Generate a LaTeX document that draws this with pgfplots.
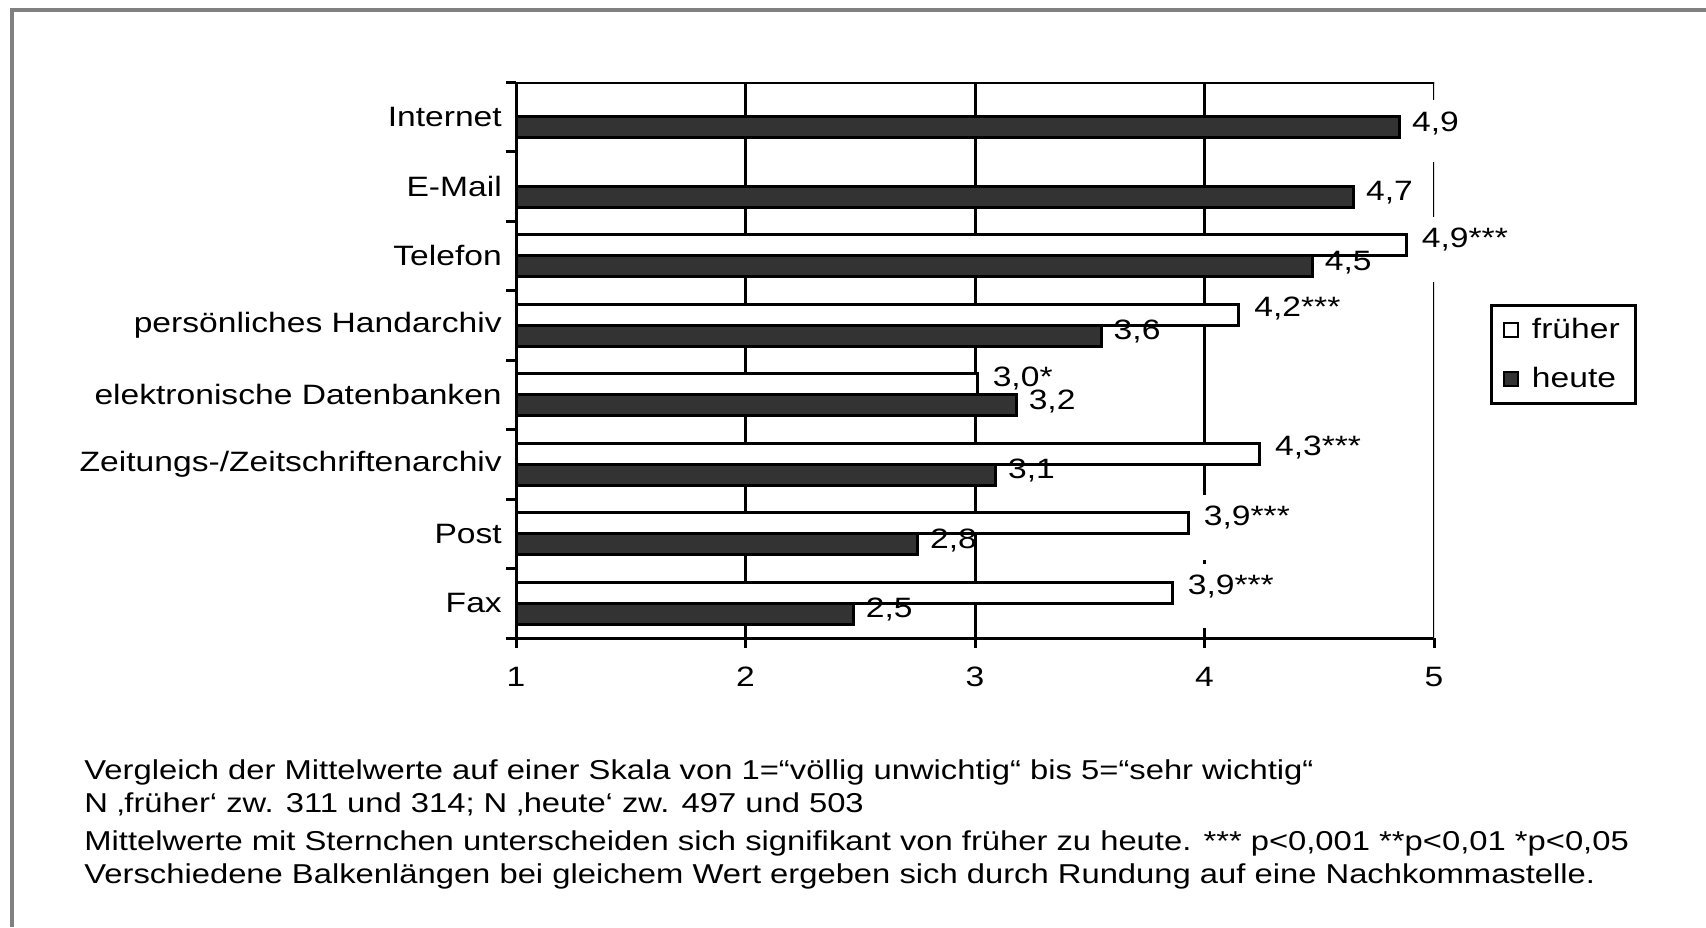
\documentclass[border=0pt]{standalone}
\usepackage{fontspec}
\setmainfont{Liberation Sans}[FakeStretch=1.2]
\usepackage{pgfplots}
\pgfplotsset{compat=1.18}
\usepackage{pgfplotstable}
\definecolor{barDark}{HTML}{333333}
\definecolor{frameGray}{HTML}{808080}
\newcommand\lbl{\fontsize{14pt}{16pt}\selectfont}
\newcommand\notefont{\fontsize{13.65pt}{15pt}\selectfont}

\pgfplotstableread{
y val lab
5 4.88 4,9***
4 4.15 4,2***
3 3.01 3,0*
2 4.24 4,3***
1 3.93 3,9***
0 3.86 3,9***
}\frueher

\pgfplotstableread{
y val lab
7 4.85 4,9
6 4.65 4,7
5 4.47 4,5
4 3.55 3,6
3 3.18 3,2
2 3.09 3,1
1 2.75 2,8
0 2.47 2,5
}\heute

\begin{document}
\begin{tikzpicture}
\path[use as bounding box] (0,0) rectangle (853pt,463.5pt);
\fill[white] (0,0) rectangle (853pt,463.5pt);
\draw[frameGray, line width=2pt] (6pt,0) -- (6pt,458.25pt) -- (853pt,458.25pt);

\begin{axis}[
  at={(258pt,144.5pt)}, anchor=south west,
  scale only axis, width=459pt, height=278pt,
  xmin=1, xmax=5, ymin=-0.5, ymax=7.5,
  xbar, bar width=10.5pt,
  axis x line*=bottom, axis y line*=left,
  axis line style={line width=1.5pt, black, -},
  xtick={1,2,3,4,5},
  ytick={-0.5,0.5,1.5,2.5,3.5,4.5,5.5,6.5,7.5},
  yticklabels={Fax,Post,Zeitungs-/Zeitschriftenarchiv,elektronische Datenbanken,persönliches Handarchiv,Telefon,E-Mail,Internet,{}},
  yticklabel style={yshift=17.375pt, xshift=1.4pt},
  xticklabel style={yshift=-6pt},
  tick align=outside,
  major tick length=5pt,
  tick style={line width=1.5pt, black},
  ticklabel style={font=\lbl},
  /pgf/number format/assume math mode=true,
  point meta=explicit symbolic,
  nodes near coords,
  every node near coord/.append style={anchor=west, inner sep=0pt, font=\lbl, text=black, fill=none, draw=none},
  legend style={at={(1.061,0.6007)}, anchor=north west, draw=black, line width=1.25pt,
    font=\lbl, inner xsep=6pt, inner ysep=4.4pt, row sep=9pt,
    /tikz/every odd column/.append style={column sep=4.35pt}},
  legend cell align=left,
]
\draw[line width=1.5pt] (axis cs:2,-0.5) -- (axis cs:2,7.5);
\draw[line width=1.5pt] (axis cs:3,-0.5) -- (axis cs:3,7.5);
\draw[line width=1.5pt] (axis cs:4,7.5) -- (axis cs:4,1.56);
\draw[line width=1.5pt] (axis cs:4,0.62) -- (axis cs:4,0.56);
\draw[line width=1.5pt] (axis cs:4,-0.36) -- (axis cs:4,-0.5);
\draw[line width=1.5pt] (axis cs:5,7.5) -- (axis cs:5,7.24);
\draw[line width=1.5pt] (axis cs:5,6.35) -- (axis cs:5,5.56);
\draw[line width=1.5pt] (axis cs:5,4.62) -- (axis cs:5,-0.5);
\draw[line width=1.5pt, line cap=rect] (axis cs:1,7.5) -- (axis cs:5,7.5);

\addplot[fill=white, draw=black, line width=1.5pt, bar shift=5.25pt,
  every node near coord/.append style={xshift=7pt, yshift=3pt},
  legend image code/.code={\draw[fill=white, draw=black, line width=1pt] (0pt,-3.5pt) rectangle (7pt,3.5pt);}]
  table[x=val, y=y, meta=lab] {\frueher};
\addlegendentry{früher}
\addplot[fill=barDark, draw=black, line width=1.5pt, bar shift=-5.25pt,
  every node near coord/.append style={xshift=5.5pt, yshift=2pt},
  legend image code/.code={\draw[fill=barDark, draw=black, line width=1pt] (0pt,-3.5pt) rectangle (7pt,3.5pt);}]
  table[x=val, y=y, meta=lab] {\heute};
\addlegendentry{heute}
\end{axis}

\node[anchor=base west, font=\notefont, inner sep=0pt] at (42pt,74pt) {Vergleich der Mittelwerte auf einer Skala von 1=“völlig unwichtig“ bis 5=“sehr wichtig“};
\node[anchor=base west, font=\notefont, inner sep=0pt] at (42pt,57.5pt) {N ‚früher‘ zw. 311 und 314; N ‚heute‘ zw. 497 und 503};
\node[anchor=base west, font=\notefont, inner sep=0pt] at (42pt,38.5pt) {Mittelwerte mit Sternchen unterscheiden sich signifikant von früher zu heute. *** p<0,001 **p<0,01 *p<0,05};
\node[anchor=base west, font=\notefont, inner sep=0pt] at (42pt,22pt) {Verschiedene Balkenlängen bei gleichem Wert ergeben sich durch Rundung auf eine Nachkommastelle.};
\end{tikzpicture}
\end{document}
